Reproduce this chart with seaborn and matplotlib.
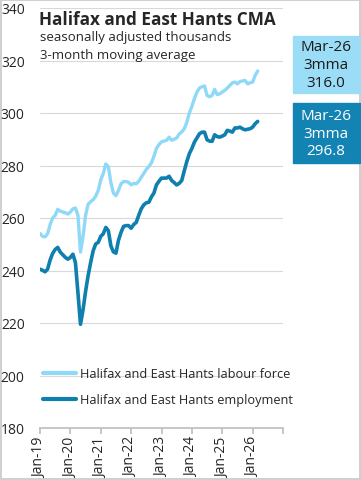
import pandas as pd
import seaborn as sns
import matplotlib.pyplot as plt

# 月次データ (Jan-19 ～ Mar-26), 3ヶ月移動平均, 千人
months = pd.date_range("2019-01-01", periods=87, freq="MS")

labour_force = [
    254.1, 253.0, 252.8, 254.0, 257.5, 260.0, 261.0, 263.3, 262.6, 262.3, 262.0, 261.5,
    262.3, 263.5, 263.8, 261.0, 247.0, 253.0, 261.0, 265.2, 266.2, 267.0, 268.3, 270.5,
    274.5, 277.0, 280.6, 279.5, 273.5, 269.5, 268.5, 270.5, 273.0, 273.9, 273.9, 273.6,
    272.6, 273.2, 273.0, 274.0, 275.5, 277.0, 278.5, 279.6, 281.0, 283.5, 286.5, 288.0,
    289.0, 289.3, 289.6, 290.8, 289.6, 290.0, 290.5, 292.0, 292.8, 294.0, 296.5, 300.0,
    302.5, 305.5, 308.0, 309.5, 310.0, 310.3, 306.7, 306.2, 306.7, 309.0, 307.0, 307.3,
    308.0, 308.6, 309.5, 310.5, 311.5, 311.8, 311.1, 312.0, 312.2, 312.4, 311.1, 311.5,
    311.8, 314.3, 316.0,
]

employment = [
    240.5, 240.1, 239.5, 240.5, 244.0, 246.5, 248.0, 248.8, 247.0, 246.0, 245.0, 244.3,
    245.0, 246.2, 243.0, 231.4, 219.5, 225.0, 232.0, 238.0, 243.0, 247.5, 250.1, 250.7,
    253.0, 254.0, 256.4, 255.2, 249.4, 247.1, 246.6, 251.5, 254.5, 256.8, 257.1, 257.1,
    256.1, 257.5, 258.3, 261.0, 263.5, 265.0, 265.8, 266.0, 268.0, 269.5, 272.6, 274.0,
    275.2, 275.2, 275.2, 275.9, 274.3, 273.5, 272.6, 273.2, 274.3, 278.0, 281.5, 284.5,
    286.5, 288.9, 290.5, 292.1, 292.7, 292.7, 289.8, 289.3, 289.2, 291.7, 291.0, 290.8,
    291.2, 291.7, 293.4, 293.1, 292.7, 294.3, 294.3, 294.6, 294.0, 293.6, 293.8, 294.0,
    294.6, 295.9, 296.8,
]

tick_labels = ["Jan-19", "Jan-20", "Jan-21", "Jan-22", "Jan-23", "Jan-24", "Jan-25", "Jan-26", ""]
y_ticks = [180, 200, 220, 240, 260, 280, 300, 320, 340]

lf_color = "#8fd9f8"
emp_color = "#0e7fae"

df = pd.DataFrame({"month": range(len(months)), "lf": labour_force, "emp": employment})

sns.set_theme(style="white")
plt.rcParams["font.family"] = ["Open Sans", "DejaVu Sans"]

fig = plt.figure(figsize=(3.61, 4.81), dpi=100)
fig.patch.set_edgecolor("#d0d0d0")
fig.patch.set_linewidth(1.5)
ax = fig.add_axes([40 / 361, 1 - 429 / 481, 243 / 361, 420 / 481])

sns.lineplot(data=df, x="month", y="lf", ax=ax, color=lf_color, linewidth=2.4,
             label="Halifax and East Hants labour force")
sns.lineplot(data=df, x="month", y="emp", ax=ax, color=emp_color, linewidth=2.6,
             label="Halifax and East Hants employment")

ax.set_xlim(0, 96)
ax.set_ylim(180, 340)
ax.set_xticks(range(0, 97, 12))
ax.set_xticklabels(tick_labels, rotation=90, fontsize=10)
ax.set_yticks(y_ticks)
ax.set_yticklabels([str(v) for v in y_ticks], fontsize=10)
ax.set_xlabel("")
ax.set_ylabel("")
ax.grid(axis="y", color="#d9d9d9", linewidth=0.8)
for s in ["left", "right", "top"]:
    ax.spines[s].set_visible(False)
ax.spines["bottom"].set_color("#bfbfbf")
ax.tick_params(axis="x", length=4, color="#bfbfbf", bottom=True, pad=2)
ax.tick_params(axis="y", length=0, pad=11)

leg = ax.legend(loc="lower left", bbox_to_anchor=(-0.035, 0.025), frameon=False,
                fontsize=9.2, handlelength=2.6, handletextpad=0.3, labelspacing=1.0)
for line in leg.get_lines():
    line.set_linewidth(3)

# タイトル
fig.text(39 / 361, 1 - 20 / 481, "Halifax and East Hants CMA", fontsize=12.3,
         fontweight="bold", va="center", ha="left")
fig.text(40 / 361, 1 - 38 / 481, "seasonally adjusted thousands", fontsize=9.5,
         va="center", ha="left")
fig.text(40 / 361, 1 - 56 / 481, "3-month moving average", fontsize=9.5,
         va="center", ha="left")

# 右側のラベル
fig.patches.append(plt.Rectangle((293 / 361, 1 - 94 / 481), 67 / 361, 57 / 481,
                                 transform=fig.transFigure, color="#9bddf7", zorder=0))
fig.text(326 / 361, 1 - 65.5 / 481, f"Mar-26\n3mma\n{labour_force[-1]:.1f}",
         fontsize=11, ha="center", va="center", color="#1a1a1a", linespacing=1.25)
fig.patches.append(plt.Rectangle((293 / 361, 1 - 164 / 481), 67 / 361, 60 / 481,
                                 transform=fig.transFigure, color="#1283b3", zorder=0))
fig.text(326 / 361, 1 - 134 / 481, f"Mar-26\n3mma\n{employment[-1]:.1f}",
         fontsize=11, ha="center", va="center", color="white", linespacing=1.25)

fig.savefig("out.png", dpi=100, edgecolor=fig.get_edgecolor())
